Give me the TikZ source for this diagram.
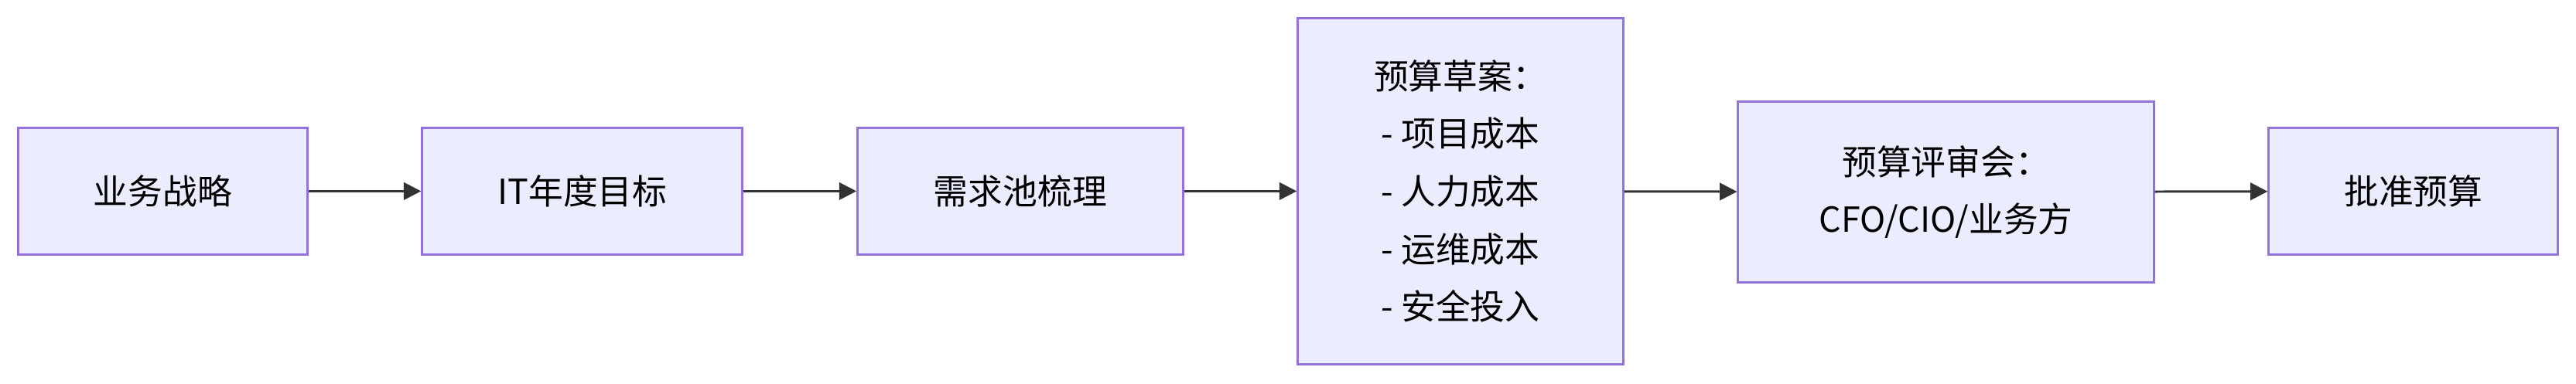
\documentclass[tikz,border=0pt]{standalone}
\usepackage{fontspec}
\newfontfamily\cjk{Noto Sans CJK SC}
\usetikzlibrary{arrows.meta}
\definecolor{boxfill}{HTML}{ECECFF}
\definecolor{boxline}{HTML}{9370DB}
\definecolor{arrowgray}{HTML}{333333}
\tikzset{
  flowbox/.style={rectangle,draw=boxline,fill=boxfill,line width=0.8pt,
    font=\cjk\fontsize{12}{20}\selectfont,align=center,inner sep=0pt},
  flowarrow/.style={draw=arrowgray,line width=0.8pt,-{Triangle[length=6pt,width=6pt]}}
}
\begin{document}
\begin{tikzpicture}[x=0.02cm,y=-0.02cm]

    \useasboundingbox (0,0) rectangle (1568,234);

    % steps
    \node[flowbox,minimum width=3.52cm,minimum height=1.54cm] (strategy) at (99,116.5) {业务战略};
    \node[flowbox,minimum width=3.9cm,minimum height=1.54cm] (itgoal) at (354.5,116.5) {IT年度目标};
    \node[flowbox,minimum width=3.96cm,minimum height=1.54cm] (demand) at (621,116.5) {需求池梳理};
    \node[flowbox,minimum width=3.96cm,minimum height=4.22cm] (draft) at (889,116.5)
        {预算草案：\\- 项目成本\\- 人力成本\\- 运维成本\\- 安全投入};
    \node[flowbox,minimum width=5.06cm,minimum height=2.2cm] (review) at (1184.5,117)
        {预算评审会：\\CFO/CIO/业务方};
    \node[flowbox,minimum width=3.52cm,minimum height=1.54cm] (approve) at (1469,116.5) {批准预算};

    % connectors
    \draw[flowarrow] (strategy) -- (itgoal);
    \draw[flowarrow] (itgoal) -- (demand);
    \draw[flowarrow] (demand) -- (draft);
    \draw[flowarrow] (draft) -- (review);
    \draw[flowarrow] (review) -- (approve);

\end{tikzpicture}
\end{document}
